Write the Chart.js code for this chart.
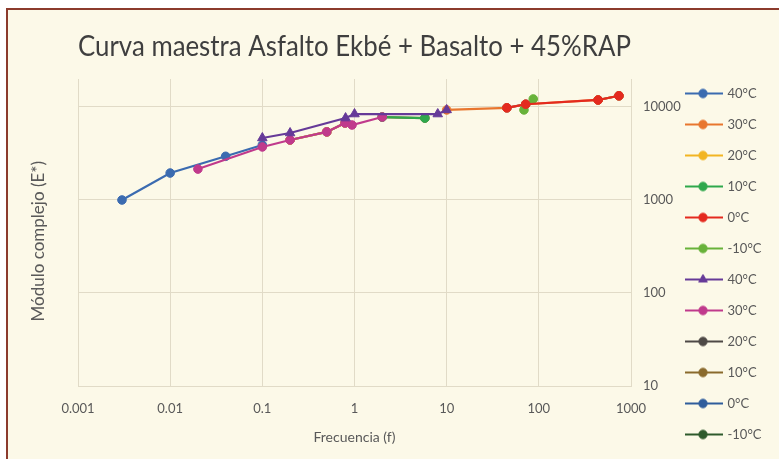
<!DOCTYPE html>
<html>
<head>
<meta charset="utf-8">
<script src="https://cdn.jsdelivr.net/npm/chart.js@4.4.0/dist/chart.umd.min.js"></script>
<style>
  html, body { margin: 0; padding: 0; background: #ffffff; }
  #frame {
    position: absolute; left: 6px; top: 8px; width: 773px; height: 451px;
    background: #fcf9e8; border-left: 2px solid #8c3b2c; border-top: 2px solid #8c3b2c;
  }
  #wrap { position: absolute; left: 0; top: 0; width: 779px; height: 459px; }
</style>
</head>
<body>
<div id="frame"></div>
<div id="wrap"><canvas id="c" width="779" height="459"></canvas></div>
<script>
// Leyenda y ejes
const seriesLabels = ['40°C', '30°C', '20°C', '10°C', '0°C', '-10°C',
                      '40°C', '30°C', '20°C', '10°C', '0°C', '-10°C'];
const xTickValues = [0.001, 0.01, 0.1, 1, 10, 100, 1000];
const yTickValues = [10, 100, 1000, 10000];

// Serie 1 – frecuencia reducida (Hz) y módulo complejo |E*| (MPa)
const f40a = [0.003, 0.01, 0.04, 0.1];
const e40a = [1000, 1950, 2950, 3900];
const f30a = [10, 45, 72, 440, 740];
const e30a = [9300, 9800, 10700, 11900, 13200];
const f20a = [0.2, 0.5, 0.79];
const e20a = [4420, 5400, 6730];
const f10a = [2, 5.8];
const e10a = [7800, 7600];
const f0a = [45, 72, 440, 740];
const e0a = [9800, 10700, 11900, 13200];
const fm10a = [69, 87];
const em10a = [9300, 12200];

// Serie 2
const f40b = [0.1, 0.2, 0.8, 1, 8, 10];
const e40b = [4640, 5250, 7600, 8400, 8400, 9300];
const f30b = [0.02, 0.1, 0.2, 0.5, 0.79, 0.94, 2];
const e30b = [2150, 3720, 4420, 5400, 6730, 6400, 7800];
const f20b = [0.2, 0.5, 0.79];
const e20b = [4420, 5400, 6730];
const f10b = [2, 5.8];
const e10b = [7800, 7600];
const f0b = [45, 72];
const e0b = [9800, 10700];
const fm10b = [440, 740];
const em10b = [11900, 13200];

const seriesX = [f40a, f30a, f20a, f10a, f0a, fm10a, f40b, f30b, f20b, f10b, f0b, fm10b];
const seriesY = [e40a, e30a, e20a, e10a, e0a, em10a, e40b, e30b, e20b, e10b, e0b, em10b];

const colors = ['#3b6bb0', '#e8762e', '#f2b522', '#2fa84c', '#e42a1f', '#68b23a',
                '#663a98', '#c03a8c', '#4e4946', '#8a6a2c', '#2f5d9c', '#2e5a2c'];
const styles = ['circle', 'circle', 'circle', 'circle', 'circle', 'circle',
                'triangle', 'circle', 'circle', 'circle', 'circle', 'circle'];
// stacking: lower order is painted on top
const stackOrder = [5, 6, 7, 4, 0, 1, 2, 3, 8, 9, 10, 11];

const FONT = 'Lato, "Open Sans", sans-serif';
const TEXT = '#595959';
const GRID = '#e1dbc7';

// legend key: short line with the marker in the middle (image is wider than the key box,
// the drawing sits in its left part)
function legendIcon(color, style) {
  const c = document.createElement('canvas');
  c.width = 54; c.height = 12;
  const g = c.getContext('2d');
  g.strokeStyle = color; g.lineWidth = 2.2;
  g.beginPath(); g.moveTo(0, 6); g.lineTo(38, 6); g.stroke();
  g.fillStyle = color;
  g.lineWidth = 1;
  if (Chart.helpers && Chart.helpers.drawPoint) {
    Chart.helpers.drawPoint(g, {pointStyle: style, radius: style === 'triangle' ? 5 : 4.2, rotation: 0, borderWidth: 1}, 18, 6);
  } else {
    g.beginPath(); g.arc(18, 6, 4.2, 0, Math.PI * 2); g.fill();
  }
  return c;
}

const datasets = seriesLabels.map((label, i) => ({
  label: label,
  data: seriesX[i].map((x, k) => ({x: x, y: seriesY[i][k]})),
  borderColor: colors[i],
  backgroundColor: colors[i],
  pointBackgroundColor: colors[i],
  pointBorderColor: colors[i],
  pointStyle: styles[i],
  pointRadius: styles[i] === 'triangle' ? 5.5 : 4.3,
  pointBorderWidth: 1,
  borderWidth: 2.2,
  showLine: true,
  fill: false,
  tension: 0,
  order: stackOrder[i]
}));

new Chart(document.getElementById('c'), {
  type: 'scatter',
  data: { datasets: datasets },
  options: {
    responsive: false,
    animation: false,
    layout: { padding: { left: 0, right: 16, top: 0, bottom: 0 } },
    plugins: {
      tooltip: { enabled: false },
      title: {
        display: true,
        text: 'Curva maestra Asfalto Ekbé + Basalto + 45%RAP',
        fullSize: false,
        color: '#3f3f3f',
        font: { family: FONT, size: 28, weight: 'normal', lineHeight: 1.25 },
        padding: { top: 29, bottom: 15 }
      },
      legend: {
        position: 'right',
        align: 'end',
        maxWidth: 78,
        labels: {
          usePointStyle: true,
          pointStyleWidth: 18,
          padding: 18,
          color: TEXT,
          font: { family: FONT, size: 13 },
          generateLabels: (chart) => chart.data.datasets.map((ds, i) => ({
            text: ds.label,
            pointStyle: legendIcon(ds.borderColor, ds.pointStyle),
            fillStyle: ds.borderColor,
            strokeStyle: ds.borderColor,
            lineWidth: 0,
            fontColor: TEXT,
            hidden: !chart.isDatasetVisible(i),
            datasetIndex: i
          }))
        }
      }
    },
    scales: {
      x: {
        type: 'logarithmic',
        position: 'bottom',
        min: 0.001,
        max: 1000,
        afterBuildTicks: (s) => { s.ticks = xTickValues.map(v => ({value: v})); },
        afterFit: (s) => { s.height = 73; },
        ticks: {
          autoSkip: false, maxRotation: 0, padding: 15, color: TEXT,
          font: { family: FONT, size: 13 },
          callback: (v) => String(v)
        },
        grid: { color: GRID, lineWidth: 1, drawTicks: false },
        border: { color: GRID, width: 1 },
        title: {
          display: true, text: 'Frecuencia (f)', color: TEXT,
          font: { family: FONT, size: 14 }, padding: { top: 4, bottom: 13 }
        }
      },
      y: {
        type: 'logarithmic',
        position: 'right',
        min: 10,
        max: 20000,
        afterBuildTicks: (s) => { s.ticks = yTickValues.map(v => ({value: v})); },
        afterFit: (s) => { s.width = 54; },
        ticks: {
          padding: 12, color: TEXT,
          font: { family: FONT, size: 13 },
          callback: (v) => String(v)
        },
        grid: { color: GRID, lineWidth: 1, drawTicks: false },
        border: { color: GRID, width: 1 }
      },
      yTitle: {
        type: 'logarithmic',
        position: 'left',
        display: true,
        min: 10,
        max: 20000,
        afterFit: (s) => { s.width = 78; },
        ticks: { display: false },
        grid: { display: false, drawTicks: false },
        border: { display: false },
        title: {
          display: true, text: 'Módulo complejo (E*)    ', color: TEXT,
          font: { family: FONT, size: 17 }, padding: { top: 28, bottom: 0 }
        }
      }
    }
  }
});
</script>
</body>
</html>
